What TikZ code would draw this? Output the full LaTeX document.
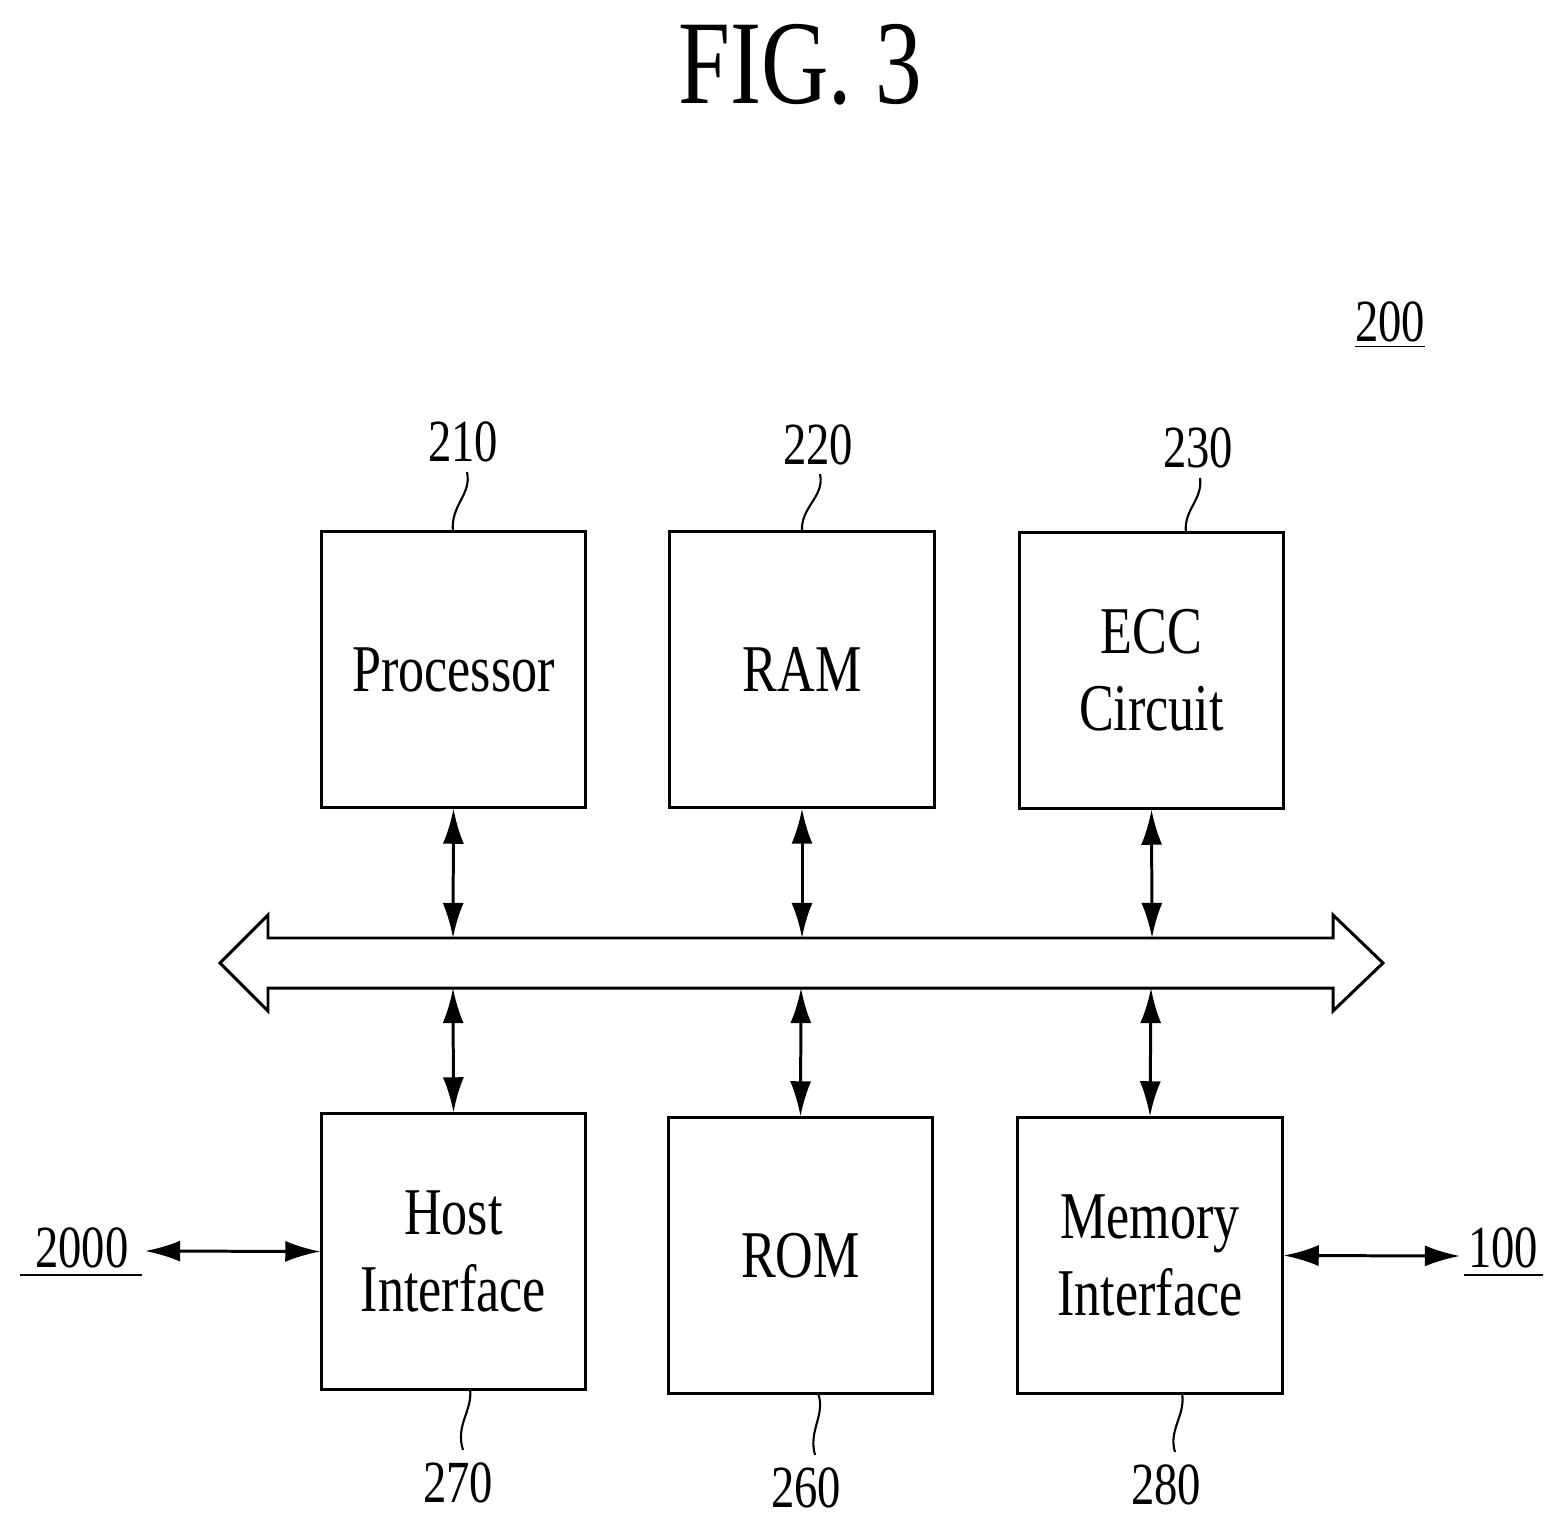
\documentclass[tikz,border=0pt]{standalone}
\usepackage{fontspec}
\setmainfont{Liberation Serif}[FakeStretch=0.78]
\usetikzlibrary{arrows.meta}
\begin{document}
\begin{tikzpicture}[x=0.01cm,y=-0.01cm,line width=0.85pt,
  box/.style={draw,inner sep=0pt,font=\fontsize{19}{22}\selectfont,align=center},
  num/.style={font=\fontsize{17}{19}\selectfont},
  arr/.style={{Latex[length=10pt,width=6pt]}-{Latex[length=10pt,width=6pt]}},
  lead/.style={line width=0.6pt}]
\useasboundingbox (0,0) rectangle (1564,1531);
\node[font=\fontsize{34}{38}\selectfont] (fig) at (800,65) {FIG. 3};
\node[num] (n200) at (1390,325) {\underline{200}};
% boxes
\node[box,minimum width=2.63cm,minimum height=2.75cm] (proc) at (453.5,669.5) {Processor};
\node[box,minimum width=2.64cm,minimum height=2.75cm] (ram) at (802,669.5) {RAM};
\node[box,minimum width=2.63cm,minimum height=2.75cm] (ecc) at (1151.5,670.5) {ECC\\Circuit};
\node[box,minimum width=2.63cm,minimum height=2.75cm] (host) at (453.5,1251.5) {Host\\Interface};
\node[box,minimum width=2.63cm,minimum height=2.75cm] (rom) at (800.5,1255.5) {ROM};
\node[box,minimum width=2.64cm,minimum height=2.75cm] (mem) at (1150,1255.5) {Memory\\Interface};
% bus
\draw (220,963) -- (268,915) -- (268,938) -- (1333,938) -- (1333,915) -- (1383,963)
  -- (1333,1011) -- (1333,988) -- (268,988) -- (268,1011) -- cycle;
\coordinate (bt1) at (453,938); \coordinate (bt2) at (802,938); \coordinate (bt3) at (1152,938);
\coordinate (bb1) at (453,988); \coordinate (bb2) at (801,988); \coordinate (bb3) at (1151,988);
\draw[arr] (proc.south) -- (bt1);
\draw[arr] (ram.south) -- (bt2);
\draw[arr] (ecc.south) -- (bt3);
\draw[arr] (bb1) -- (host.north);
\draw[arr] (bb2) -- (rom.north);
\draw[arr] (bb3) -- (mem.north);
% external
\node[num] (n2000) at (82,1248) {2000};
\draw[line width=0.7pt] (20,1275) -- (142,1275);
\node[num] (n100) at (1503,1248) {100};
\draw[line width=0.7pt] (1464,1275) -- (1543,1275);
\coordinate (e1) at (145,1251); \coordinate (e2) at (1460,1256);
\draw[arr] (e1) -- (host.west);
\draw[arr] (mem.east) -- (e2);
% labels
\node[num] (l210) at (463,442) {210};
\node[num] (l220) at (818,445) {220};
\node[num] (l230) at (1198,448) {230};
\node[num] (l270) at (458,1483) {270};
\node[num] (l260) at (806,1488) {260};
\node[num] (l280) at (1166,1485) {280};
\draw[lead] (467,472) .. controls (472,495) and (450,505) .. (453,532);
\draw[lead] (820,474) .. controls (825,497) and (800,507) .. (802,532);
\draw[lead] (1200,478) .. controls (1203,500) and (1183,510) .. (1186,533);
\draw[lead] (470,1389) .. controls (473,1410) and (455,1425) .. (463,1450);
\draw[lead] (818,1393) .. controls (826,1415) and (808,1430) .. (815,1455);
\draw[lead] (1182,1393) .. controls (1186,1415) and (1168,1430) .. (1175,1452);
\end{tikzpicture}
\end{document}
